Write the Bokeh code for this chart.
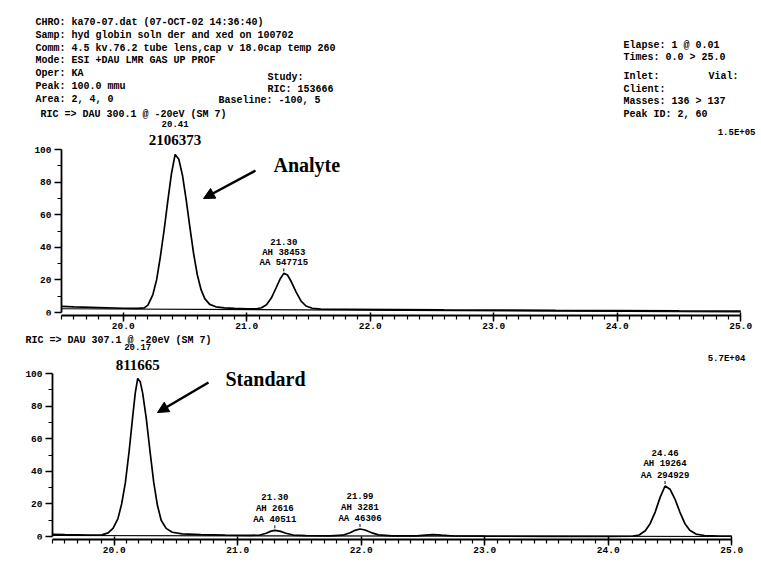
import numpy as np
from bokeh.plotting import figure
from bokeh.models import Label, Arrow, NormalHead, FixedTicker, PrintfTickFormatter, Range1d
from bokeh.layouts import column
from bokeh.embed import file_html
from bokeh.resources import INLINE

# ---------------- data ----------------
analyte_time = [19.50, 19.60, 19.80, 20.00, 20.12, 20.17, 20.20, 20.24, 20.27, 20.30, 20.33,
                20.36, 20.39, 20.42, 20.45, 20.48, 20.51, 20.54, 20.57, 20.60, 20.63, 20.66,
                20.70, 20.75, 20.82, 20.90, 21.00, 21.08, 21.12, 21.16, 21.20, 21.24, 21.27,
                21.30, 21.33, 21.36, 21.40, 21.44, 21.48, 21.53, 21.60, 21.80, 22.20, 22.60,
                23.00, 23.50, 24.00, 24.50, 25.00]
analyte_rel = [3.8, 3.4, 3.0, 2.6, 2.5, 2.8, 4.5, 11, 20, 34, 50,
               68, 85, 97, 94, 84, 69, 52, 36, 23, 14, 8.5,
               5.0, 3.5, 2.8, 2.5, 2.3, 2.3, 2.9, 4.8, 9.0, 15.5, 20.5,
               24, 23, 19, 12.5, 7.0, 4.0, 2.6, 2.1, 2.0, 1.8, 1.6,
               1.5, 1.3, 1.2, 1.0, 0.9]
analyte_base_time = [19.50, 25.00]
analyte_base_rel = [2.3, 0.3]

standard_time = [19.50, 19.60, 19.80, 19.90, 19.95, 19.99, 20.03, 20.06, 20.09, 20.12, 20.15,
                 20.17, 20.19, 20.21, 20.23, 20.26, 20.29, 20.32, 20.35, 20.38, 20.42, 20.47,
                 20.55, 20.70, 20.90, 21.10, 21.18, 21.23, 21.27, 21.30, 21.34, 21.39, 21.45,
                 21.55, 21.75, 21.85, 21.91, 21.95, 21.99, 22.03, 22.08, 22.14, 22.25, 22.45,
                 22.52, 22.58, 22.65, 22.75, 23.00, 23.50, 24.00, 24.20, 24.25, 24.30, 24.34,
                 24.38, 24.42, 24.46, 24.50, 24.54, 24.58, 24.62, 24.66, 24.71, 24.78, 24.90,
                 25.00]
standard_rel = [1.3, 1.1, 0.9, 1.0, 2.2, 5.0, 11, 20, 33, 52, 74,
                88, 97, 95, 88, 72, 52, 33, 19, 10, 5.0, 2.6,
                1.6, 1.1, 0.8, 0.7, 0.9, 2.0, 3.3, 3.8, 3.3, 2.0, 0.9,
                0.5, 0.4, 0.8, 2.3, 3.8, 4.6, 4.0, 2.4, 1.0, 0.4, 0.4,
                0.9, 1.2, 0.8, 0.3, 0.2, 0.1, 0.1, 0.2, 0.9, 3.5, 8.0,
                15, 24, 31, 29, 23, 15, 8.0, 3.8, 1.5, 0.6, 0.3,
                0.2]
standard_base_time = [19.50, 25.00]
standard_base_rel = [0.6, 0.0]

x_ticks = [20.0, 21.0, 22.0, 23.0, 24.0, 25.0]
y_ticks = [0, 20, 40, 60, 80, 100]
y_minor = [10, 30, 50, 70, 90]

analyte_main = {"rt": 20.42, "rt_text": "20.41", "area": "2106373", "name": "Analyte"}
standard_main = {"rt": 20.19, "rt_text": "20.17", "area": "811665", "name": "Standard"}
analyte_peaks_rt = [21.30]
analyte_peaks_text = [["21.30", "AH 38453", "AA 547715"]]
standard_peaks_rt = [21.30, 21.99, 24.46]
standard_peaks_text = [["21.30", "AH 2616", "AA 40511"],
                       ["21.99", "AH 3281", "AA 46306"],
                       ["24.46", "AH 19264", "AA 294929"]]

header_left = ["CHRO: ka70-07.dat (07-OCT-02 14:36:40)",
               "Samp: hyd globin soln der and xed on 100702",
               "Comm: 4.5 kv.76.2 tube lens,cap v 18.0cap temp 260",
               "Mode: ESI +DAU LMR GAS UP PROF",
               "Oper: KA",
               "Peak: 100.0 mmu",
               "Area: 2, 4, 0"]
header_mid = ["Study:", "RIC: 153666"]
header_baseline = "Baseline:   -100, 5"
header_right = ["Elapse:  1 @ 0.01", "Times:  0.0 > 25.0"]
header_right2 = ["Inlet:", "Client:", "Masses:  136 > 137", "Peak ID:  2, 60"]
header_vial = "Vial:"
top_channel = "RIC => DAU 300.1 @ -20eV (SM 7)"
bottom_channel = "RIC => DAU 307.1 @ -20eV (SM 7)"
top_scale = "1.5E+05"
bottom_scale = "5.7E+04"

# ---------------- geometry / style ----------------
MONO = "Liberation Mono"
SERIF = "Liberation Serif"
PPM = 123.5     # px per minute
PPU = 1.63      # px per percent
X0 = 19.5
W = 761         # figure width (page drawn from the window's top-left corner)

def make_panel(axis_left_px, y0_px, frame_top_px, frame_h, bb):
    # frame spans the full figure width; the y axis is drawn at a fixed location
    x_start = X0 - axis_left_px / PPM
    x_end = x_start + W / PPM
    y_end = (y0_px - frame_top_px) / PPU
    y_start = -3.0 / PPU
    p = figure(frame_width=W, frame_height=frame_h,
               x_range=Range1d(x_start, x_end), y_range=Range1d(y_start, y_end),
               output_backend="svg", toolbar_location=None,
               min_border_left=0, min_border_right=0, min_border_top=0, min_border_bottom=bb)
    p.outline_line_color = None
    p.xgrid.visible = False
    p.ygrid.visible = False
    p.background_fill_color = "white"
    p.border_fill_color = "white"
    xa = p.xaxis[0]
    xa.ticker = FixedTicker(ticks=x_ticks, minor_ticks=[round(19.5 + 0.1 * i, 1) for i in range(56)])
    xa.formatter = PrintfTickFormatter(format="%.1f")
    xa.bounds = (19.5, 25.0)
    xa.axis_line_width = 1.8
    xa.major_tick_in = 3
    xa.major_tick_out = 6
    xa.minor_tick_in = 0
    xa.minor_tick_out = 4
    xa.major_tick_line_width = 1.5
    xa.minor_tick_line_width = 1.2
    xa.major_label_standoff = 1
    ya = p.yaxis[0]
    ya.fixed_location = X0
    ya.ticker = FixedTicker(ticks=y_ticks, minor_ticks=y_minor)
    ya.bounds = (0, 100)
    ya.axis_line_width = 1.8
    ya.major_tick_in = 0
    ya.major_tick_out = 7
    ya.minor_tick_in = 0
    ya.minor_tick_out = 4
    ya.major_tick_line_width = 1.5
    ya.minor_tick_line_width = 1.2
    ya.major_label_standoff = 3
    for a in (xa, ya):
        a.axis_line_color = "black"
        a.major_tick_line_color = "black"
        a.minor_tick_line_color = "black"
        a.major_label_text_font = MONO
        a.major_label_text_font_style = "bold"
        a.major_label_text_font_size = "9.5px"
        a.major_label_text_color = "black"
    fx = lambda px: x_start + px / PPM
    fy = lambda py: (y0_px - py) / PPU
    return p, fx, fy

def lab(p, x, y, text, font=MONO, size="10px", align="left", style="bold"):
    p.add_layout(Label(x=x, y=y, text=text, text_font=font, text_font_size=size,
                       text_font_style=style, text_align=align, text_baseline="middle",
                       text_color="black"))

def apex(times, vals, rt):
    t = np.array(times); v = np.array(vals)
    m = np.abs(t - rt) <= 0.06
    return float(v[m].max())

# ---------------- top panel (analyte): window rows 0..334 ----------------
top, tx, ty = make_panel(61, 312, 0, 315, 19)
top.line(analyte_base_time, analyte_base_rel, line_color="black", line_width=1.2)
top.line(analyte_time, analyte_rel, line_color="black", line_width=1.7)

left_y = [21.7, 34.6, 47.5, 60.4, 73.3, 86.2, 99.1]
for t, yy in zip(header_left, left_y):
    lab(top, tx(35), ty(yy), t)
lab(top, tx(40), ty(114), top_channel)
for t, yy in zip(header_mid, [77, 89]):
    lab(top, tx(267), ty(yy), t)
lab(top, tx(218), ty(99.5), header_baseline)
for t, yy in zip(header_right, [45, 57]):
    lab(top, tx(623), ty(yy), t)
for t, yy in zip(header_right2, [76, 88.5, 101, 113.5]):
    lab(top, tx(623), ty(yy), t)
lab(top, tx(708), ty(76), header_vial)
lab(top, tx(755), ty(132), top_scale, size="9px", align="right")

h = apex(analyte_time, analyte_rel, analyte_main["rt"])
lab(top, analyte_main["rt"], h + 30 / PPU, analyte_main["rt_text"], size="9px", align="center")
lab(top, analyte_main["rt"], h + 14 / PPU, analyte_main["area"], font=SERIF, size="15px", align="center")
lab(top, tx(273), ty(164), analyte_main["name"], font=SERIF, size="20px")
top.add_layout(Arrow(end=NormalHead(size=11, fill_color="black", line_color="black"),
                     x_start=tx(255), y_start=ty(170), x_end=tx(203), y_end=ty(198),
                     line_width=2.5, line_color="black"))

for rt, txt in zip(analyte_peaks_rt, analyte_peaks_text):
    hp = apex(analyte_time, analyte_rel, rt)
    for k, s in enumerate(txt):
        lab(top, rt, hp + (10 + 10.5 * (2 - k)) / PPU, s, size="9px", align="center")
    top.segment(x0=[rt], y0=[hp + 2 / PPU], x1=[rt], y1=[hp + 5 / PPU], line_color="black", line_width=1)

# ---------------- bottom panel (standard): window rows 334..584 ----------------
bot, bx, by = make_panel(52, 536, 334, 205, 45)
bot.line(standard_base_time, standard_base_rel, line_color="black", line_width=1.2)
bot.line(standard_time, standard_rel, line_color="black", line_width=1.7)

lab(bot, bx(25), by(339.5), bottom_channel)
lab(bot, bx(745), by(358), bottom_scale, size="9px", align="right")
h = apex(standard_time, standard_rel, standard_main["rt"])
lab(bot, standard_main["rt"], h + 31 / PPU, standard_main["rt_text"], size="9px", align="center")
lab(bot, standard_main["rt"], h + 13 / PPU, standard_main["area"], font=SERIF, size="15px", align="center")
lab(bot, bx(225), by(378), standard_main["name"], font=SERIF, size="20px")
bot.add_layout(Arrow(end=NormalHead(size=11, fill_color="black", line_color="black"),
                     x_start=bx(208), y_start=by(382), x_end=bx(157), y_end=by(412),
                     line_width=2.5, line_color="black"))
for rt, txt in zip(standard_peaks_rt, standard_peaks_text):
    hp = apex(standard_time, standard_rel, rt)
    for k, s in enumerate(txt):
        lab(bot, rt, hp + (10 + 11.5 * (2 - k)) / PPU, s, size="9px", align="center")
    bot.segment(x0=[rt], y0=[hp + 2 / PPU], x1=[rt], y1=[hp + 5 / PPU], line_color="black", line_width=1)

p = column(top, bot, spacing=0)
open("out.html", "w").write(file_html(p, INLINE))
